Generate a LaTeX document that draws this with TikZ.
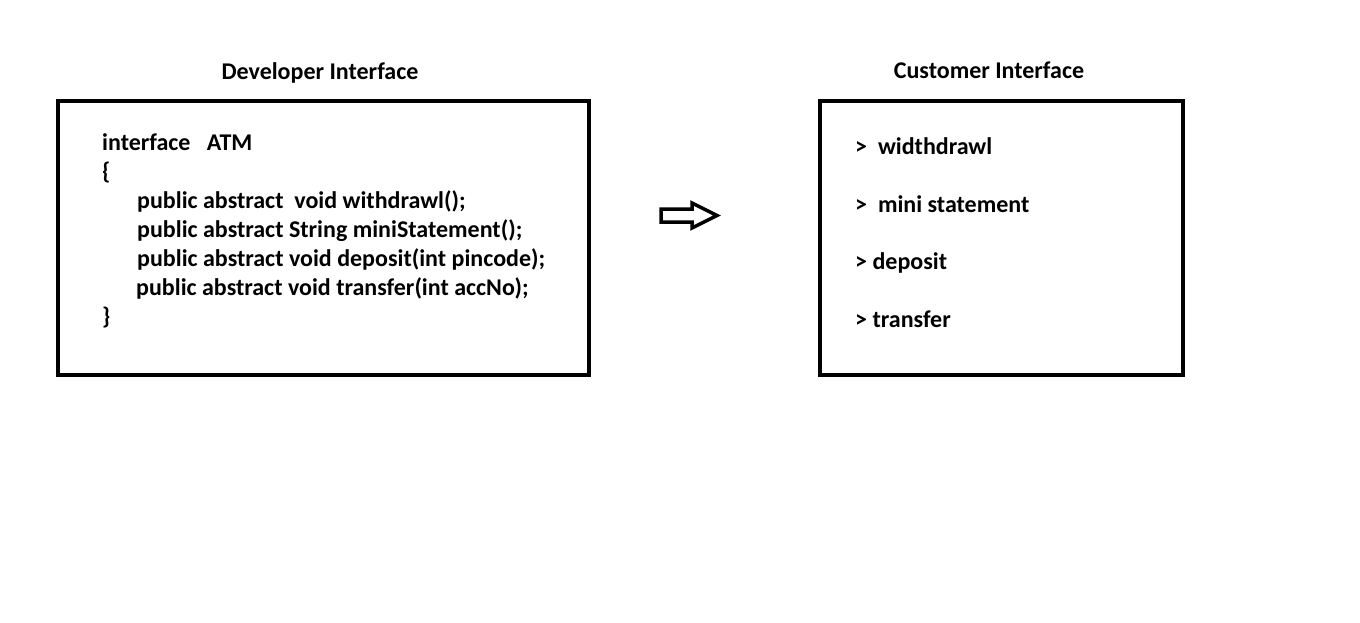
\documentclass[tikz,border=0pt]{standalone}
\usepackage{fontspec}
\setmainfont{Carlito}
\begin{document}
\begin{tikzpicture}[x=1pt, y=-1pt,
  txt/.style={anchor=base west, inner sep=0pt, font=\fontsize{24}{29}\selectfont\bfseries},
  ttl/.style={anchor=base, inner sep=0pt, font=\fontsize{24}{29}\selectfont\bfseries},
  panel/.style={draw, line width=4pt}]
\useasboundingbox (0,0) rectangle (1360,623);
\node[ttl] (devttl) at (320,80) {Developer Interface};
\node[ttl] (custttl) at (989,79) {Customer Interface};
\draw[panel] (58,101) rectangle (589,375);
\draw[panel] (820,101) rectangle (1183,375);
\node[txt] (l0) at (102,150) {interface\ \ \ ATM};
\node[txt] (l1) at (102,179) {\{};
\node[txt] (l2) at (137,208) {public abstract\ \ void withdrawl();};
\node[txt] (l3) at (137,237) {public abstract String miniStatement();};
\node[txt] (l4) at (137,266) {public abstract void deposit(int pincode);};
\node[txt] (l5) at (136,295) {public abstract void transfer(int accNo);};
\node[txt] (l6) at (102,324) {\}};
\node[txt] (c1) at (855,154) {>\ \ widthdrawl};
\node[txt] (c2) at (855,212) {>\ \ mini statement};
\node[txt] (c3) at (855,269) {> deposit};
\node[txt] (c4) at (855,327) {> transfer};
\draw[line width=3.5pt, line join=miter] (661,209) -- (692,209) -- (692,203) -- (717,215.5)
  -- (692,228) -- (692,222) -- (661,222) -- cycle;
\end{tikzpicture}
\end{document}
